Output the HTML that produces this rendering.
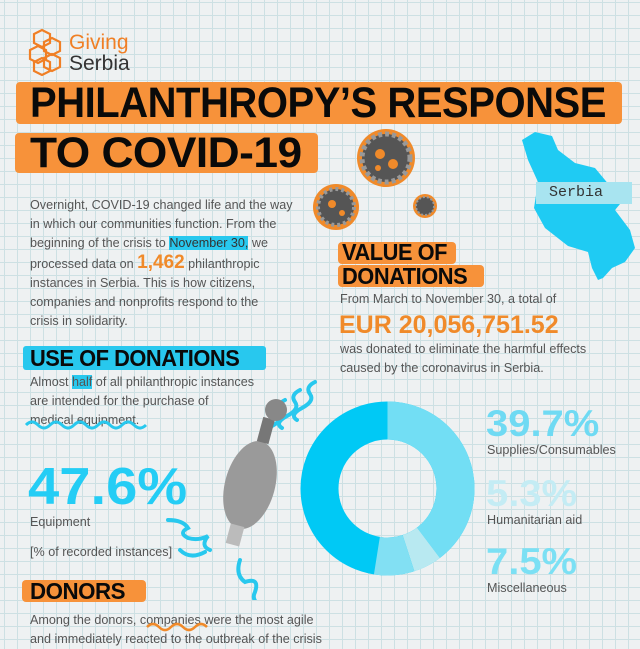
<!DOCTYPE html>
<html><head><meta charset="utf-8"><style>
*{margin:0;padding:0;box-sizing:border-box}
body{width:640px;height:640px;overflow:hidden;position:relative;background:#eef1f2;
background-image:linear-gradient(#cde0e3 1px,transparent 1px),linear-gradient(90deg,#cde0e3 1px,transparent 1px);
background-size:13px 13px;background-position:4px 2px;font-family:"Liberation Sans",sans-serif;color:#555}
.a{position:absolute;white-space:nowrap}
.h{font-weight:900;color:#0a0a0a;letter-spacing:-0.5px}
.bar{position:absolute;background:#f7923a;border-radius:4px}
.t{font-size:12.6px;line-height:19px;color:#555}
.big{font-weight:900;color:#24cdf5}
</style></head><body>
<!-- logo -->
<svg class="a" style="left:28px;top:28px" width="38" height="48" viewBox="0 0 38 48"><g fill="none" stroke="#f07f25" stroke-width="2.2"><polygon points="14,2 22,6 22,15 14,19 6,15 6,6"/><polygon points="24,10 32,14 32,23 24,27 16,23 16,14"/><polygon points="10,18 18,22 18,31 10,35 2,31 2,22"/><polygon points="24,26 32,30 32,39 24,43 16,39 16,30"/><polygon points="14,30 22,34 22,43 14,47 6,43 6,34"/></g></svg>
<div class="a" style="left:69px;top:32px;font-size:21px;color:#f07f25;line-height:22px">Giving</div>
<div class="a" style="left:69px;top:53px;font-size:21px;color:#333;line-height:22px">Serbia</div>
<!-- title -->
<div class="bar" style="left:16px;top:82px;width:606px;height:42px"></div>
<div class="a h" style="left:30px;top:81px;font-size:43px;line-height:44px;transform:scaleX(0.93);transform-origin:left">PHILANTHROPY’S RESPONSE</div>
<div class="bar" style="left:15px;top:133px;width:303px;height:40px"></div>
<div class="a h" style="left:30px;top:132px;font-size:43px;line-height:42px;transform:scaleX(1.03);transform-origin:left">TO COVID-19</div>
<!-- viruses -->
<svg class="a" style="left:300px;top:120px" width="150" height="110"><g>
<circle cx="86" cy="38" r="29" fill="#f08a2a"/><circle cx="86" cy="38" r="24" fill="#555" stroke="#999" stroke-width="5" stroke-dasharray="4 3"/><circle cx="80" cy="34" r="5" fill="#f08a2a"/><circle cx="93" cy="44" r="5" fill="#f08a2a"/><circle cx="78" cy="48" r="3" fill="#f08a2a"/>
<circle cx="36" cy="87" r="23" fill="#f08a2a"/><circle cx="36" cy="87" r="18" fill="#555" stroke="#999" stroke-width="4" stroke-dasharray="3 3"/><circle cx="32" cy="84" r="4" fill="#f08a2a"/><circle cx="42" cy="93" r="3" fill="#f08a2a"/>
<circle cx="125" cy="86" r="12" fill="#f08a2a"/><circle cx="125" cy="86" r="9" fill="#555" stroke="#999" stroke-width="2" stroke-dasharray="2 2"/></g></svg>
<!-- map -->
<svg class="a" style="left:0;top:0" width="640" height="300"><path d="M522,140 L535,132 L552,136 L558,150 L575,163 L595,168 L610,186 L625,198 L615,210 L630,230 L635,248 L625,262 L612,268 L603,278 L598,280 L592,268 L588,252 L568,246 L545,228 L534,208 L538,182 L528,160 Z" fill="#1fcbf3"/></svg>
<div class="a" style="left:536px;top:182px;width:96px;height:22px;background:#a8e4f0"></div>
<div class="a" style="left:549px;top:182px;font-family:'Liberation Mono',monospace;font-size:15px;color:#333;line-height:22px">Serbia</div>
<!-- intro -->
<div class="a t" style="left:30px;top:196px">Overnight, COVID-19 changed life and the way<br>in which our communities function. From the<br>beginning of the crisis to <span style="background:#28c8ee;color:#333">November 30,</span> we<br>processed data on <b style="color:#f08a2a;font-size:19px;font-weight:900">1,462</b> philanthropic<br>instances in Serbia. This is how citizens,<br>companies and nonprofits respond to the<br>crisis in solidarity.</div>
<!-- value -->
<div class="bar" style="left:338px;top:242px;width:118px;height:22px"></div>
<div class="bar" style="left:338px;top:265px;width:146px;height:22px"></div>
<div class="a h" style="left:342px;top:240px;font-size:23px;line-height:24px;transform:scaleX(0.95);transform-origin:left">VALUE OF<br>DONATIONS</div>
<div class="a t" style="left:340px;top:290px">From March to November 30, a total of</div>
<div class="a" style="left:339px;top:310px;font-size:25px;font-weight:900;color:#f08a2a;line-height:30px">EUR 20,056,751.52</div>
<div class="a t" style="left:340px;top:340px">was donated to eliminate the harmful effects<br>caused by the coronavirus in Serbia.</div>
<!-- use of donations -->
<div class="a" style="left:23px;top:346px;width:243px;height:24px;background:#28c8ee;border-radius:3px"></div>
<div class="a h" style="left:30px;top:345px;font-size:23px;line-height:26px;transform:scaleX(0.95);transform-origin:left">USE OF DONATIONS</div>
<div class="a t" style="left:30px;top:373px">Almost <span style="background:#28c8ee">half</span> of all philanthropic instances<br>are intended for the purchase of<br>medical equipment.</div>
<svg class="a" style="left:24px;top:419px" width="126" height="12"><path d="M2,6 q6,-6 12,0 t12,0 t12,0 t12,0 t12,0 t12,0 t12,0 t12,0 t12,0 t12,0" fill="none" stroke="#28c8ee" stroke-width="3"/></svg>
<div class="a big" style="left:28px;top:460px;font-size:52px;line-height:54px;transform:scaleX(1.08);transform-origin:left">47.6%</div>
<div class="a t" style="left:30px;top:513px">Equipment</div>
<div class="a t" style="left:30px;top:543px">[% of recorded instances]</div>
<!-- squiggles and bag -->
<svg class="a" style="left:160px;top:370px" width="170" height="230"><g fill="none" stroke="#28c8ee" stroke-width="4" stroke-linecap="round">
<path d="M140,20 q-10,5 -5,12 t-8,14 t-5,12"/><path d="M155,12 q-10,5 -5,12 t-8,14 t-5,12"/><path d="M125,30 q-10,5 -5,12 t-8,14"/>
<path d="M8,150 q15,0 20,8 q-10,5 0,10 q10,3 20,-2 q-8,10 2,14"/><path d="M20,180 q10,10 25,2"/><path d="M80,190 q-5,15 5,22 q15,-5 10,10 q-5,10 10,15"/></g>
<ellipse cx="90" cy="115" rx="25" ry="45" fill="#9a9a9a" transform="rotate(15 90 115)"/><rect x="100" y="48" width="12" height="25" fill="#777" transform="rotate(15 106 60)"/><circle cx="116" cy="40" r="11" fill="#888"/><rect x="68" y="155" width="14" height="20" fill="#bbb" transform="rotate(15 75 165)"/></svg>
<!-- donut -->
<svg class="a" style="left:300px;top:401px" width="175" height="175" viewBox="-87.5 -87.5 175 175">
<g transform="rotate(-90)" fill="none" stroke-width="38">
<circle r="68" stroke="#00c9f5"/>
<circle r="68" stroke="#72def4" stroke-dasharray="169.6 427.3"/>
<circle r="68" stroke="#b8e9f1" stroke-dasharray="0 169.6 22.6 427.3"/>
<circle r="68" stroke="#82e0f3" stroke-dasharray="0 192.2 32 427.3"/>
</g></svg>
<!-- right stats -->
<div class="a big" style="left:486px;top:404px;font-size:37px;line-height:40px;color:#6fdaf3;transform:scaleX(1.08);transform-origin:left">39.7%</div>
<div class="a t" style="left:487px;top:441px">Supplies/Consumables</div>
<div class="a big" style="left:486px;top:474px;font-size:37px;line-height:40px;color:#c4ecf4;transform:scaleX(1.08);transform-origin:left">5.3%</div>
<div class="a t" style="left:487px;top:511px">Humanitarian aid</div>
<div class="a big" style="left:486px;top:542px;font-size:37px;line-height:40px;color:#7be0f4;transform:scaleX(1.08);transform-origin:left">7.5%</div>
<div class="a t" style="left:487px;top:579px">Miscellaneous</div>
<!-- donors -->
<div class="bar" style="left:22px;top:580px;width:124px;height:22px"></div>
<div class="a h" style="left:30px;top:578px;font-size:23px;line-height:26px;transform:scaleX(0.97);transform-origin:left">DONORS</div>
<div class="a t" style="left:30px;top:611px">Among the donors, companies were the most agile<br>and immediately reacted to the outbreak of the crisis</div>
<svg class="a" style="left:145px;top:622px" width="66" height="10"><path d="M2,5 q6,-6 12,0 t12,0 t12,0 t12,0 t12,0" fill="none" stroke="#f08a2a" stroke-width="2.5"/></svg>
</body></html>
